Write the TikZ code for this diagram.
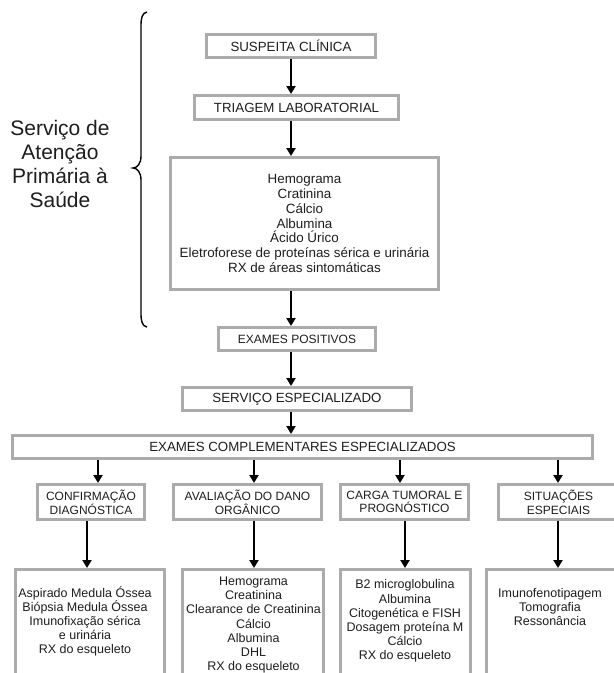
\documentclass[tikz,border=0pt]{standalone}
\usepackage{fontspec}
\setmainfont{Liberation Sans}
\usetikzlibrary{arrows.meta}
\definecolor{boxgray}{HTML}{ABABAB}
\definecolor{ink}{HTML}{1E1E1E}
\tikzset{
  x=1pt,y=-1pt,
  box/.style={draw=boxgray,line width=3pt,fill=white,inner sep=0pt,text=ink,align=center},
  lbl/.style={font=\fontsize{13.3}{15}\selectfont},
  cat/.style={font=\fontsize{12}{13.7}\selectfont},
  lst/.style={text=ink,align=center,inner sep=0pt,font=\fontsize{12.5}{14.1}\selectfont},
  arr/.style={draw=black,line width=2.3pt,-{Triangle[width=9pt,length=8pt]}},
}
\begin{document}
\begin{tikzpicture}
\clip (0,0) rectangle (614,673);
\fill[white] (0,0) rectangle (614,673);
% left label and brace
\node[text=ink,align=center,font=\fontsize{21}{24}\selectfont] (psa) at (60,164) {Serviço de\\Atenção\\Primária à\\Saúde};
\draw[line width=1.4pt,black] (147,12) .. controls (142,13) and (141,18) .. (141,26) -- (141,156) .. controls (141,164) and (137,168) .. (133,168) .. controls (137,168) and (141,172) .. (141,180) -- (141,313) .. controls (141,321) and (142,326) .. (147,327);
% main column
\coordinate (sp) at (291,0);
\node[box,lbl,minimum width=169,minimum height=23] (s1) at (291,46) {SUSPEITA CLÍNICA};
\node[box,lbl,minimum width=204,minimum height=24] (s2) at (296.5,107.5) {TRIAGEM LABORATORIAL};
\node[box,minimum width=268,minimum height=132,font=\fontsize{13.4}{14.9}\selectfont] (s3) at (304.5,223.5) {Hemograma\\Cratinina\\Cálcio\\Albumina\\Ácido Úrico\\Eletroforese de proteínas sérica e urinária\\RX de áreas sintomáticas};
\node[box,minimum width=157,minimum height=23,font=\fontsize{12}{14}\selectfont] (s4) at (297,339) {EXAMES POSITIVOS};
\node[box,lbl,minimum width=229,minimum height=23] (s5) at (297,399) {SERVIÇO ESPECIALIZADO};
\node[box,lbl,minimum width=580,minimum height=23] (s6) at (302.5,447) {EXAMES COMPLEMENTARES ESPECIALIZADOS};
\draw[arr] (s1.south -| sp) -- (s2.north -| sp);
\draw[arr] (s2.south -| sp) -- (s3.north -| sp);
\draw[arr] (s3.south -| sp) -- (s4.north -| sp);
\draw[arr] (s4.south -| sp) -- (s5.north -| sp);
\draw[arr] (s5.south -| sp) -- (s6.north -| sp);
% categories
\node[box,cat,minimum width=107,minimum height=35] (c1) at (91,502) {CONFIRMAÇÃO\\DIAGNÓSTICA};
\node[box,cat,minimum width=148,minimum height=35] (c2) at (247.5,502) {AVALIAÇÃO DO DANO\\ORGÂNICO};
\node[box,cat,minimum width=128,minimum height=35] (c3) at (404.5,502) {CARGA TUMORAL E\\PROGNÓSTICO};
\node[box,cat,minimum width=120,minimum height=35] (c4) at (558.5,502) {SITUAÇÕES\\ESPECIAIS};
\coordinate (ua) at (98,0);
\coordinate (ub) at (254,0);
\coordinate (uc) at (400,0);
\coordinate (ud) at (558,0);
\draw[arr] (s6.south -| ua) -- (c1.north -| ua);
\draw[arr] (s6.south -| ub) -- (c2.north -| ub);
\draw[arr] (s6.south -| uc) -- (c3.north -| uc);
\draw[arr] (s6.south -| ud) -- (c4.north -| ud);
% bottom boxes
\node[box,minimum width=149,minimum height=119] (b1) at (90,629) {};
\node[box,minimum width=141,minimum height=119] (b2) at (253,629) {};
\node[box,minimum width=130,minimum height=119] (b3) at (405.5,629) {};
\node[box,minimum width=142,minimum height=119] (b4) at (557.5,629) {};
\node[lst] (t1) at (85,621.5) {Aspirado Medula Óssea\\Biópsia Medula Óssea\\Imunofixação sérica\\e urinária\\RX do esqueleto};
\node[lst] (t2) at (253.5,625) {Hemograma\\Creatinina\\Clearance de Creatinina\\Cálcio\\Albumina\\DHL\\RX do esqueleto};
\node[lst] (t3) at (405,621) {B2 microglobulina\\Albumina\\Citogenética e FISH\\Dosagem proteína M\\Cálcio\\RX do esqueleto};
\node[lst] (t4) at (550,607) {Imunofenotipagem\\Tomografia\\Ressonância};
\coordinate (la) at (87,0);
\coordinate (lb) at (254,0);
\coordinate (lc) at (405,0);
\coordinate (ld) at (558,0);
\draw[arr] (c1.south -| la) -- (b1.north -| la);
\draw[arr] (c2.south -| lb) -- (b2.north -| lb);
\draw[arr] (c3.south -| lc) -- (b3.north -| lc);
\draw[arr] (c4.south -| ld) -- (b4.north -| ld);
\end{tikzpicture}
\end{document}
